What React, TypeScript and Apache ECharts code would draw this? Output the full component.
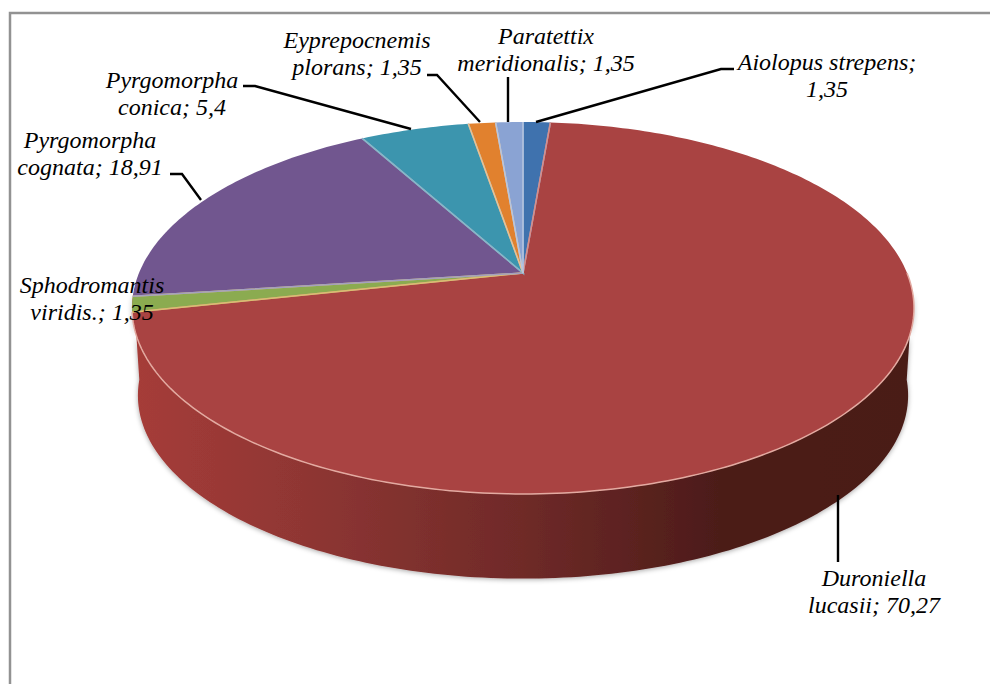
import React, { useEffect, useRef } from "react";
import * as echarts from "echarts";

const speciesNames = [
  "Aiolopus strepens",
  "Duroniella lucasii",
  "Sphodromantis viridis.",
  "Pyrgomorpha cognata",
  "Pyrgomorpha conica",
  "Eyprepocnemis plorans",
  "Paratettix meridionalis",
];
const shares = [1.35, 70.27, 1.35, 18.91, 5.4, 1.35, 1.35];
const shareTexts = ["1,35", "70,27", "1,35", "18,91", "5,4", "1,35", "1,35"];
const sliceColors = ["#3f72ae", "#a94342", "#8bab50", "#71568f", "#3c95ae", "#e1812e", "#8aa3d3"];
const sliceEdges = ["#8ea8d0", "#d98d88", "#d8c070", "#a3a0c0", "#85b8c8", "#ecc090", "#b5c5e0"];

// One line-broken caption per slice: [lines, centre x, first line middle y]
const labelLines = [
  { lines: ["Aiolopus strepens;", "1,35"], x: 827, y: 62 },
  { lines: ["Duroniella", "lucasii; 70,27"], x: 874, y: 578 },
  { lines: ["Sphodromantis", "viridis.; 1,35"], x: 92, y: 285 },
  { lines: ["Pyrgomorpha", "cognata; 18,91"], x: 90, y: 140 },
  { lines: ["Pyrgomorpha", "conica; 5,4"], x: 172, y: 80 },
  { lines: ["Eyprepocnemis", "plorans; 1,35"], x: 357, y: 40 },
  { lines: ["Paratettix", "meridionalis; 1,35"], x: 546, y: 36 },
];
const leaderLines: number[][][] = [
  [[536, 122], [721, 69], [734, 69]],
  [[838, 495], [838, 562]],
  [],
  [[201, 200], [182, 174], [170, 174]],
  [[411, 129], [255, 86], [243, 86]],
  [[480, 122], [437, 75], [427, 75]],
  [[508, 122], [508, 77]],
];

// Geometry of the tilted disc: a projective view of a circle around the apex
const apexX = 523;
const apexY = 273;
const radiusX = 384;
const radiusY = 179.4;
const tilt = 0.188;
const wallDepth = 88;
const wallScale = 0.985;

function rimPoint(deg: number, scale = 1): number[] {
  const a = (deg * Math.PI) / 180;
  const u = Math.sin(a);
  const v = -Math.cos(a);
  const d = 1 - tilt * v;
  return [apexX + (scale * radiusX * u) / d, apexY + (scale * radiusY * v) / d];
}

function arcPoints(from: number, to: number, offset = 0, scale = 1): number[][] {
  const steps = Math.max(2, Math.ceil(Math.abs(to - from)));
  const pts: number[][] = [];
  for (let i = 0; i <= steps; i++) {
    const p = rimPoint(from + ((to - from) * i) / steps, scale);
    pts.push([p[0], p[1] + offset]);
  }
  return pts;
}

const wallGradient = {
  type: "linear",
  x: 0,
  y: 0,
  x2: 1,
  y2: 0,
  colorStops: [
    { offset: 0, color: "#a63c39" },
    { offset: 0.22, color: "#8f3633" },
    { offset: 0.5, color: "#6f2a28" },
    { offset: 0.75, color: "#4c1c19" },
    { offset: 1, color: "#4a1b18" },
  ],
};

export default function App() {
  const ref = useRef<HTMLDivElement>(null);
  useEffect(() => {
    const chart = echarts.init(ref.current!, undefined, { renderer: "svg" });
    const total = shares.reduce((a, b) => a + b, 0);

    const renderItem = (params: any, api: any) => {
      const i = params.dataIndex;
      const value = api.value(0);
      let before = 0;
      for (let k = 0; k < i; k++) before += shares[k];
      const start = (before / total) * 360;
      const end = start + (value / total) * 360;
      const arc = arcPoints(start, end);
      const children: any[] = [];
      if (i === 0) {
        // Visible front wall of the disc, drawn once beneath every slice
        children.push({
          type: "polygon",
          shape: {
            points: [
              ...arcPoints(96, 264, 0),
              ...arcPoints(264, 96, wallDepth, wallScale),
            ],
          },
          style: {
            fill: wallGradient,
            shadowBlur: 5,
            shadowColor: "rgba(0,0,0,0.35)",
            shadowOffsetY: 1,
          },
        });
      }
      children.push({
        type: "polygon",
        z2: 5,
        shape: { points: [[apexX, apexY], ...arc] },
        style: { fill: sliceColors[i] },
      });
      // Pale spokes between neighbouring slices
      children.push({
        type: "polyline",
        z2: 6,
        shape: { points: [arc[0], [apexX, apexY], arc[arc.length - 1]] },
        style: { fill: "none", stroke: sliceEdges[i], lineWidth: 1.5 },
      });
      if (value === Math.max(...shares)) {
        // Light front rim where the top surface meets the wall
        children.push({
          type: "polyline",
          z2: 7,
          shape: { points: arcPoints(90, end) },
          style: { fill: "none", stroke: "#e3aaa1", lineWidth: 1.5 },
        });
      }
      return { type: "group", children };
    };

    const graphic: any[] = [
      {
        type: "polyline",
        z: 20,
        shape: { points: [[10, 684], [10, 13], [990, 13]] },
        style: { fill: "none", stroke: "#929292", lineWidth: 2.5 },
      },
    ];
    leaderLines.forEach((pts) => {
      if (pts.length) {
        graphic.push({
          type: "polyline",
          z: 20,
          shape: { points: pts },
          style: { fill: "none", stroke: "#000000", lineWidth: 2.4 },
        });
      }
    });
    labelLines.forEach((lab) => {
      lab.lines.forEach((line, j) => {
        graphic.push({
          type: "text",
          z: 21,
          x: lab.x,
          y: lab.y + j * 26.5,
          style: {
            text: line,
            font: "italic 24px 'Liberation Serif', 'Times New Roman', serif",
            fill: "#000000",
            textAlign: "center",
            textVerticalAlign: "middle",
          },
        });
      });
    });

    chart.setOption({
      animation: false,
      backgroundColor: "#ffffff",
      xAxis: { show: false, min: 0, max: 1 },
      yAxis: { show: false, min: 0, max: 1 },
      grid: { left: 0, right: 0, top: 0, bottom: 0 },
      graphic,
      series: [
        {
          type: "custom",
          coordinateSystem: "none",
          silent: true,
          clip: false,
          data: shares.map((v, i) => ({ name: speciesNames[i], value: [v, shareTexts[i]] })),
          renderItem,
        },
      ],
    });
    return () => chart.dispose();
  }, []);

  return (
    <div
      ref={ref}
      style={{ position: "fixed", left: 0, top: 0, width: 990, height: 684 }}
    />
  );
}
